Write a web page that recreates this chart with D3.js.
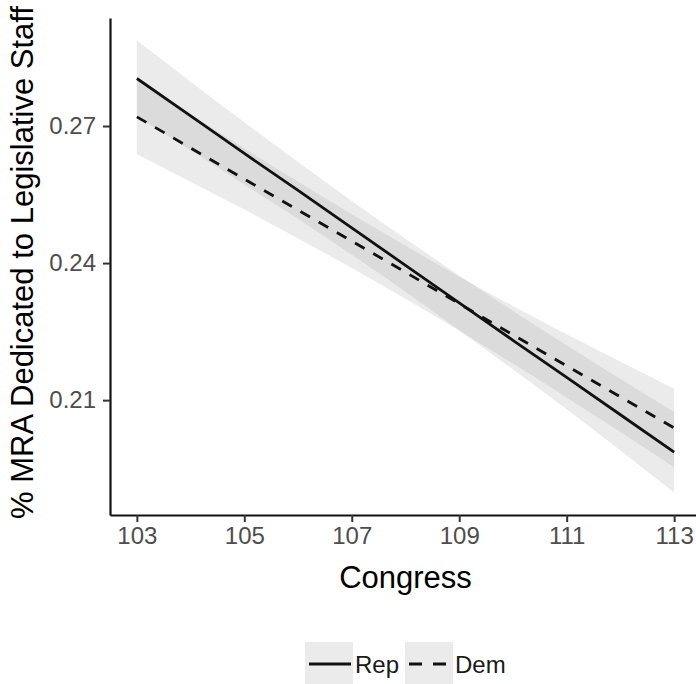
<!DOCTYPE html>
<html>
<head>
<meta charset="utf-8">
<script src="https://cdn.jsdelivr.net/npm/d3@7"></script>
<style>
	body { margin: 0; background: #fff; }
	text { font-family: "Liberation Sans", Arial, sans-serif; }
</style>
</head>
<body>
<script>
'use strict';

// Congress sessions and fitted lm lines with 95% bands
const congress = [103, 104, 105, 106, 107, 108, 109, 110, 111, 112, 113];

const repFit = [0.2804, 0.2722, 0.2640, 0.2559, 0.2477, 0.2395, 0.2313, 0.2231, 0.2150, 0.2068, 0.1986];
const repLow = [0.2721, 0.2647, 0.2572, 0.2497, 0.2418, 0.2337, 0.2253, 0.2167, 0.2080, 0.1990, 0.1898];
const repHigh = [0.2887, 0.2797, 0.2708, 0.2621, 0.2536, 0.2453, 0.2373, 0.2295, 0.2220, 0.2146, 0.2074];

const demFit = [0.2720, 0.2652, 0.2584, 0.2516, 0.2448, 0.2380, 0.2311, 0.2243, 0.2175, 0.2107, 0.2039];
const demLow = [0.2639, 0.2578, 0.2517, 0.2454, 0.2389, 0.2322, 0.2252, 0.2180, 0.2106, 0.2030, 0.1953];
const demHigh = [0.2801, 0.2726, 0.2651, 0.2578, 0.2507, 0.2438, 0.2370, 0.2306, 0.2244, 0.2184, 0.2125];

const xTicks = [103, 105, 107, 109, 111, 113];
const yTicks = [0.21, 0.24, 0.27];
const seriesNames = ["Rep", "Dem"];

const params = {
	width: 696,
	height: 684,
	left: 110,
	right: 701,
	top: 18,
	bottom: 515
};

const series = [
	{ name: seriesNames[0], fit: repFit, low: repLow, high: repHigh, dash: null },
	{ name: seriesNames[1], fit: demFit, low: demLow, high: demHigh, dash: "11,10" }
];

const svg = d3.select("body")
	.append("svg")
	.attr("width", params.width)
	.attr("height", params.height);

// ggplot style 5% expansion of both axes
const xPad = (d3.max(congress) - d3.min(congress)) * 0.05;
const xScale = d3.scaleLinear()
	.domain([d3.min(congress) - xPad, d3.max(congress) + xPad])
	.range([params.left, params.right]);

const yMin = d3.min(series, s => d3.min(s.low));
const yMax = d3.max(series, s => d3.max(s.high));
const yPad = (yMax - yMin) * 0.05;
const yScale = d3.scaleLinear()
	.domain([yMin - yPad, yMax + yPad])
	.range([params.bottom, params.top]);

// ribbons first, then lines on top
series.forEach(s => {
	const ribbon = d3.area()
		.x(i => xScale(congress[i]))
		.y0(i => yScale(s.low[i]))
		.y1(i => yScale(s.high[i]))
		.curve(d3.curveMonotoneX);
	svg.append("path")
		.attr("d", ribbon(d3.range(congress.length)))
		.attr("fill", "#999999")
		.attr("fill-opacity", 0.2);
});

series.forEach(s => {
	const line = d3.line()
		.x(i => xScale(congress[i]))
		.y(i => yScale(s.fit[i]));
	svg.append("path")
		.attr("d", line(d3.range(congress.length)))
		.attr("fill", "none")
		.attr("stroke", "#111")
		.attr("stroke-width", 2.8)
		.attr("stroke-dasharray", s.dash);
});

// axes
const yAxis = svg.append("g")
	.attr("transform", `translate(${params.left},0)`)
	.call(d3.axisLeft(yScale).tickValues(yTicks).tickFormat(d3.format(".2f")).tickSize(7).tickSizeOuter(0).tickPadding(7));

const xAxis = svg.append("g")
	.attr("transform", `translate(0,${params.bottom})`)
	.call(d3.axisBottom(xScale).tickValues(xTicks).tickFormat(d3.format("d")).tickSize(7).tickSizeOuter(0).tickPadding(5));

[xAxis, yAxis].forEach(ax => {
	ax.select(".domain").attr("stroke", "#111").attr("stroke-width", 2.2);
	ax.selectAll(".tick line").attr("stroke", "#333").attr("stroke-width", 2);
	ax.selectAll(".tick text")
		.attr("fill", "#4d4d4d")
		.style("font-size", "24px")
		.style("font-family", "'Liberation Sans', Arial, sans-serif");
});

svg.append("text")
	.attr("x", (params.left + params.right) / 2)
	.attr("y", 588)
	.attr("text-anchor", "middle")
	.attr("fill", "#000")
	.style("font-size", "31px")
	.text("Congress");

svg.append("text")
	.attr("transform", `translate(33,${(params.top + params.bottom) / 2 - 4}) rotate(-90)`)
	.attr("text-anchor", "middle")
	.attr("fill", "#000")
	.style("font-size", "31px")
	.text("% MRA Dedicated to Legislative Staff");

// legend
const legendX = [305, 405];
const legend = svg.append("g")
	.selectAll("g")
	.data(series)
	.join("g")
	.attr("transform", (d, i) => `translate(${legendX[i]},642)`);

legend.append("rect")
	.attr("width", 48)
	.attr("height", 44)
	.attr("fill", "#ebebeb");

legend.append("line")
	.attr("x1", 4)
	.attr("x2", 46)
	.attr("y1", 22)
	.attr("y2", 22)
	.attr("stroke", "#111")
	.attr("stroke-width", 2.8)
	.attr("stroke-dasharray", d => d.dash ? "13,11" : null);

legend.append("text")
	.attr("x", 50)
	.attr("y", 31)
	.attr("fill", "#1a1a1a")
	.style("font-size", "24px")
	.text(d => d.name);
</script>
</body>
</html>
